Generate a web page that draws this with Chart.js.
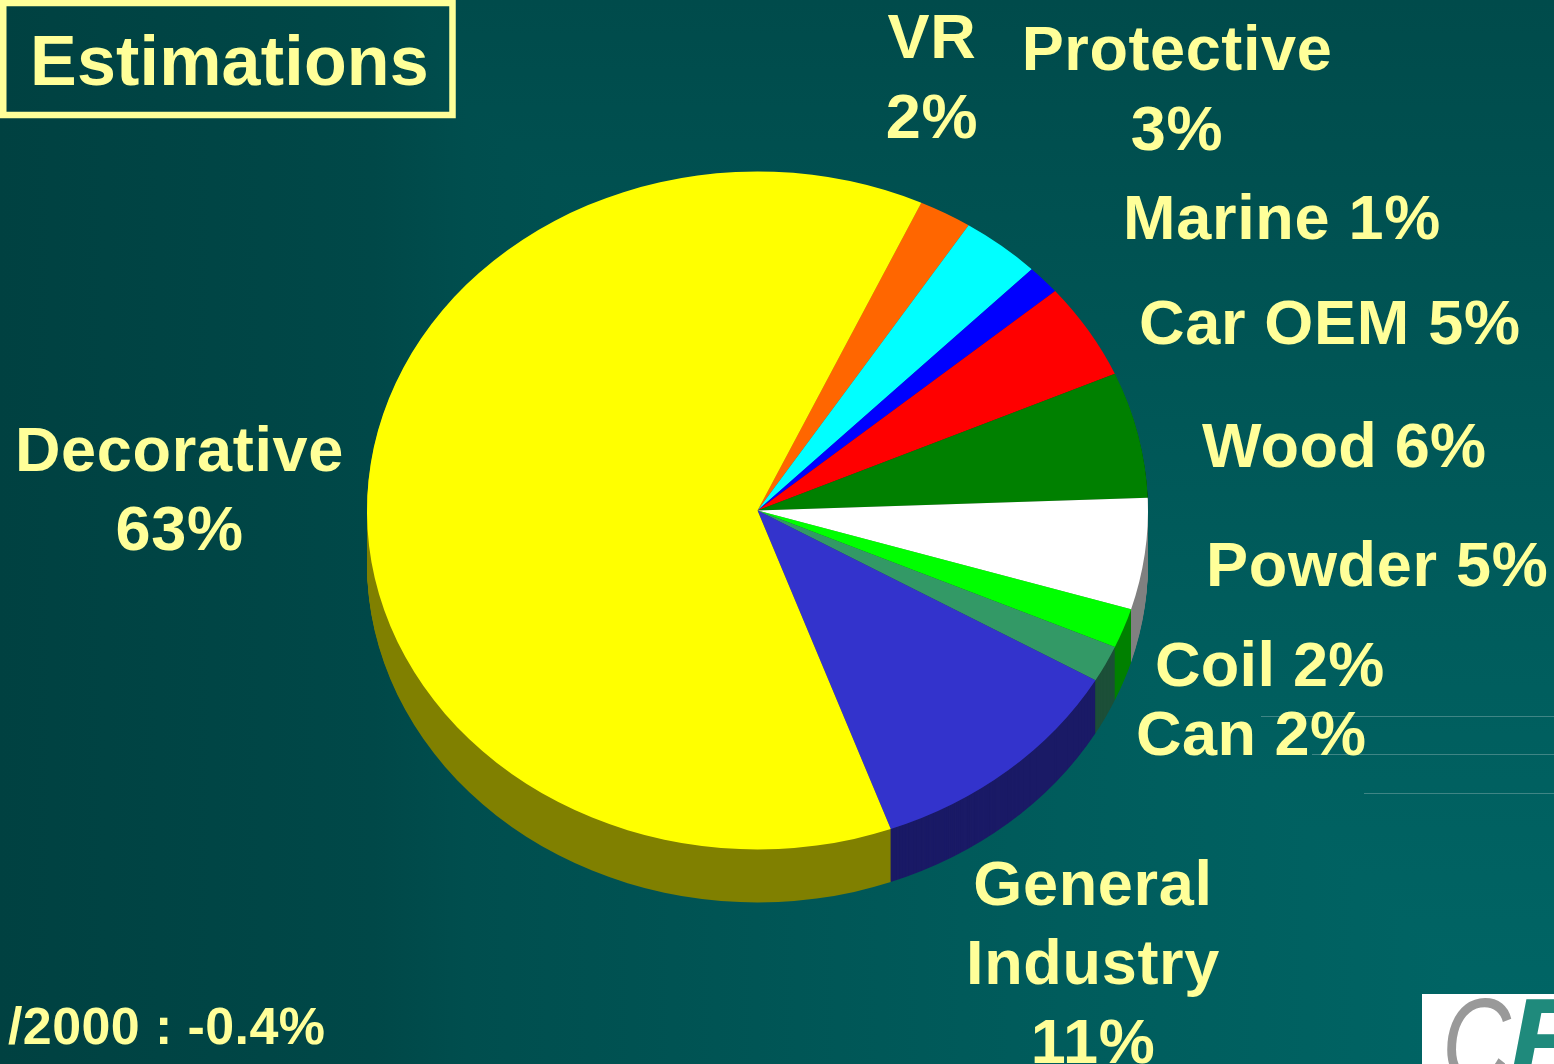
<!DOCTYPE html>
<html>
<head>
<meta charset="utf-8">
<title>Estimations</title>
<script src="https://cdn.jsdelivr.net/npm/chart.js@4"></script>
<style>
  html, body { margin: 0; padding: 0; overflow: hidden; background: #004f4f; }
  /* slide background gets lighter towards the bottom right corner in rectangular bands */
  #pie {
    display: block;
    background-image:
      linear-gradient(90deg, #004141 0%, #004848 24%, #004e4e 30%, #005a5a 62%, #006666 100%),
      linear-gradient(180deg, #004b4b 0%, #005050 17%, #005c5c 56%, #006666 100%);
    background-blend-mode: darken;
  }
</style>
</head>
<body>
<canvas id="pie" width="1554" height="1064"></canvas>
<script>
const categories = ['VR', 'Protective', 'Marine', 'Car OEM', 'Wood', 'Powder', 'Coil', 'Can', 'General Industry', 'Decorative'];
// the percentages printed on the slide
const shares = [2, 3, 1, 5, 6, 5, 2, 2, 11, 63];
// the same slices as measured from the wedges, the printed numbers are rounded
const sliceShares = [2.2, 3.3, 1.4, 4.6, 6, 5.3, 1.9, 1.75, 11.1, 62.4];
const topColors = ['#FF6600', '#00FFFF', '#0000FF', '#FF0000', '#008000', '#FFFFFF', '#00FF00', '#339966', '#3333CC', '#FFFF00'];
const sideColors = ['#803300', '#008080', '#000080', '#800000', '#004000', '#808080', '#008000', '#1C4F38', '#1A1A66', '#808000'];

const textColor = '#FFFF99';
const squash = 0.868;
const depth = 53;

// where each category's label goes: [x, first baseline, align, line height, lines break after name, tracking]
const labelSpots = {
  'VR': [932, 58, 'center', 80, true, 0.7],
  'Protective': [1177, 70, 'center', 80, true, 0.6],
  'Marine': [1123, 239, 'left', 0, false, 0.7],
  'Car OEM': [1139, 344, 'left', 0, false, 0.7],
  'Wood': [1202, 467, 'left', 0, false, 0.3],
  'Powder': [1206, 586, 'left', 0, false, 0.7],
  'Coil': [1155, 686, 'left', 0, false, 0.3],
  'Can': [1136, 755, 'left', 0, false, 0.5],
  'General Industry': [1093, 905, 'center', 79, true, 0.7],
  'Decorative': [179.5, 471, 'center', 79, true, 0.7]
};

function drawPieTransform(ctx, chart, dy) {
  const arc = chart.getDatasetMeta(0).data[0];
  ctx.translate(arc.x, arc.y + dy);
  ctx.scale(1, squash);
  ctx.translate(-arc.x, -arc.y);
}

// PowerPoint style tilted pie: squashed top plus a dark rim below it
const tiltPlugin = {
  id: 'tilt',
  beforeDatasetsDraw(chart) {
    const ctx = chart.ctx;
    const arcs = chart.getDatasetMeta(0).data;
    for (let dy = depth; dy > 0; dy--) {
      ctx.save();
      drawPieTransform(ctx, chart, dy);
      arcs.forEach((arc, i) => {
        const keep = arc.options;
        arc.options = { ...keep, backgroundColor: sideColors[i] };
        arc.draw(ctx);
        arc.options = keep;
      });
      ctx.restore();
    }
    ctx.save();
    drawPieTransform(ctx, chart, 0);
  },
  afterDatasetsDraw(chart) {
    chart.ctx.restore();
  }
};

const textPlugin = {
  id: 'slideText',
  beforeDraw(chart) {
    const ctx = chart.ctx;
    ctx.save();
    ctx.strokeStyle = '#3F8585';
    ctx.lineWidth = 1;
    [[1261, 716.5], [1312, 754.5], [1364, 793.5]].forEach(([x, y]) => {
      ctx.beginPath();
      ctx.moveTo(x, y);
      ctx.lineTo(1554, y);
      ctx.stroke();
    });
    ctx.restore();
  },
  afterDraw(chart) {
    const ctx = chart.ctx;
    ctx.save();
    ctx.fillStyle = textColor;
    ctx.strokeStyle = textColor;
    ctx.textBaseline = 'alphabetic';

    ctx.lineWidth = 6.5;
    ctx.strokeRect(3.25, 3, 449.25, 112);
    ctx.font = 'bold 70px "Liberation Sans"';
    ctx.letterSpacing = '0.2px';
    ctx.textAlign = 'left';
    ctx.fillText('Estimations', 30, 85);

    ctx.font = 'bold 63px "Liberation Sans"';
    categories.forEach((name, i) => {
      const [x, y, align, lead, stacked, tracking] = labelSpots[name];
      ctx.textAlign = align;
      ctx.letterSpacing = tracking + 'px';
      const lines = stacked ? [...name.split(' '), shares[i] + '%'] : [name + ' ' + shares[i] + '%'];
      lines.forEach((line, k) => ctx.fillText(line, x, y + k * lead));
    });

    ctx.font = 'bold 52px "Liberation Sans"';
    ctx.letterSpacing = '0.4px';
    ctx.textAlign = 'left';
    ctx.fillText('/2000 : -0.4%', 8, 1044);

    // logo in the corner, cut off by the slide edge
    ctx.letterSpacing = '0px';
    ctx.fillStyle = '#FFFFFF';
    ctx.fillRect(1422, 994, 132, 70);
    ctx.font = 'italic 122px "Liberation Sans"';
    ctx.save();
    ctx.translate(1442, 1084);
    ctx.scale(0.78, 1);
    ctx.fillStyle = '#999999';
    ctx.fillText('C', 0, 0);
    ctx.restore();
    ctx.font = 'italic bold 122px "Liberation Sans"';
    ctx.fillStyle = '#1F8A7C';
    ctx.fillText('E', 1508, 1084);
    ctx.restore();
  }
};

new Chart(document.getElementById('pie'), {
  type: 'pie',
  data: {
    labels: categories,
    datasets: [{
      data: sliceShares,
      backgroundColor: topColors,
      borderWidth: 0,
      clip: false
    }]
  },
  options: {
    responsive: false,
    animation: false,
    rotation: 24.8,
    layout: { padding: { left: 367, right: 406, top: 120, bottom: 163 } },
    plugins: {
      legend: { display: false },
      tooltip: { enabled: false }
    }
  },
  plugins: [textPlugin, tiltPlugin]
});
</script>
</body>
</html>
